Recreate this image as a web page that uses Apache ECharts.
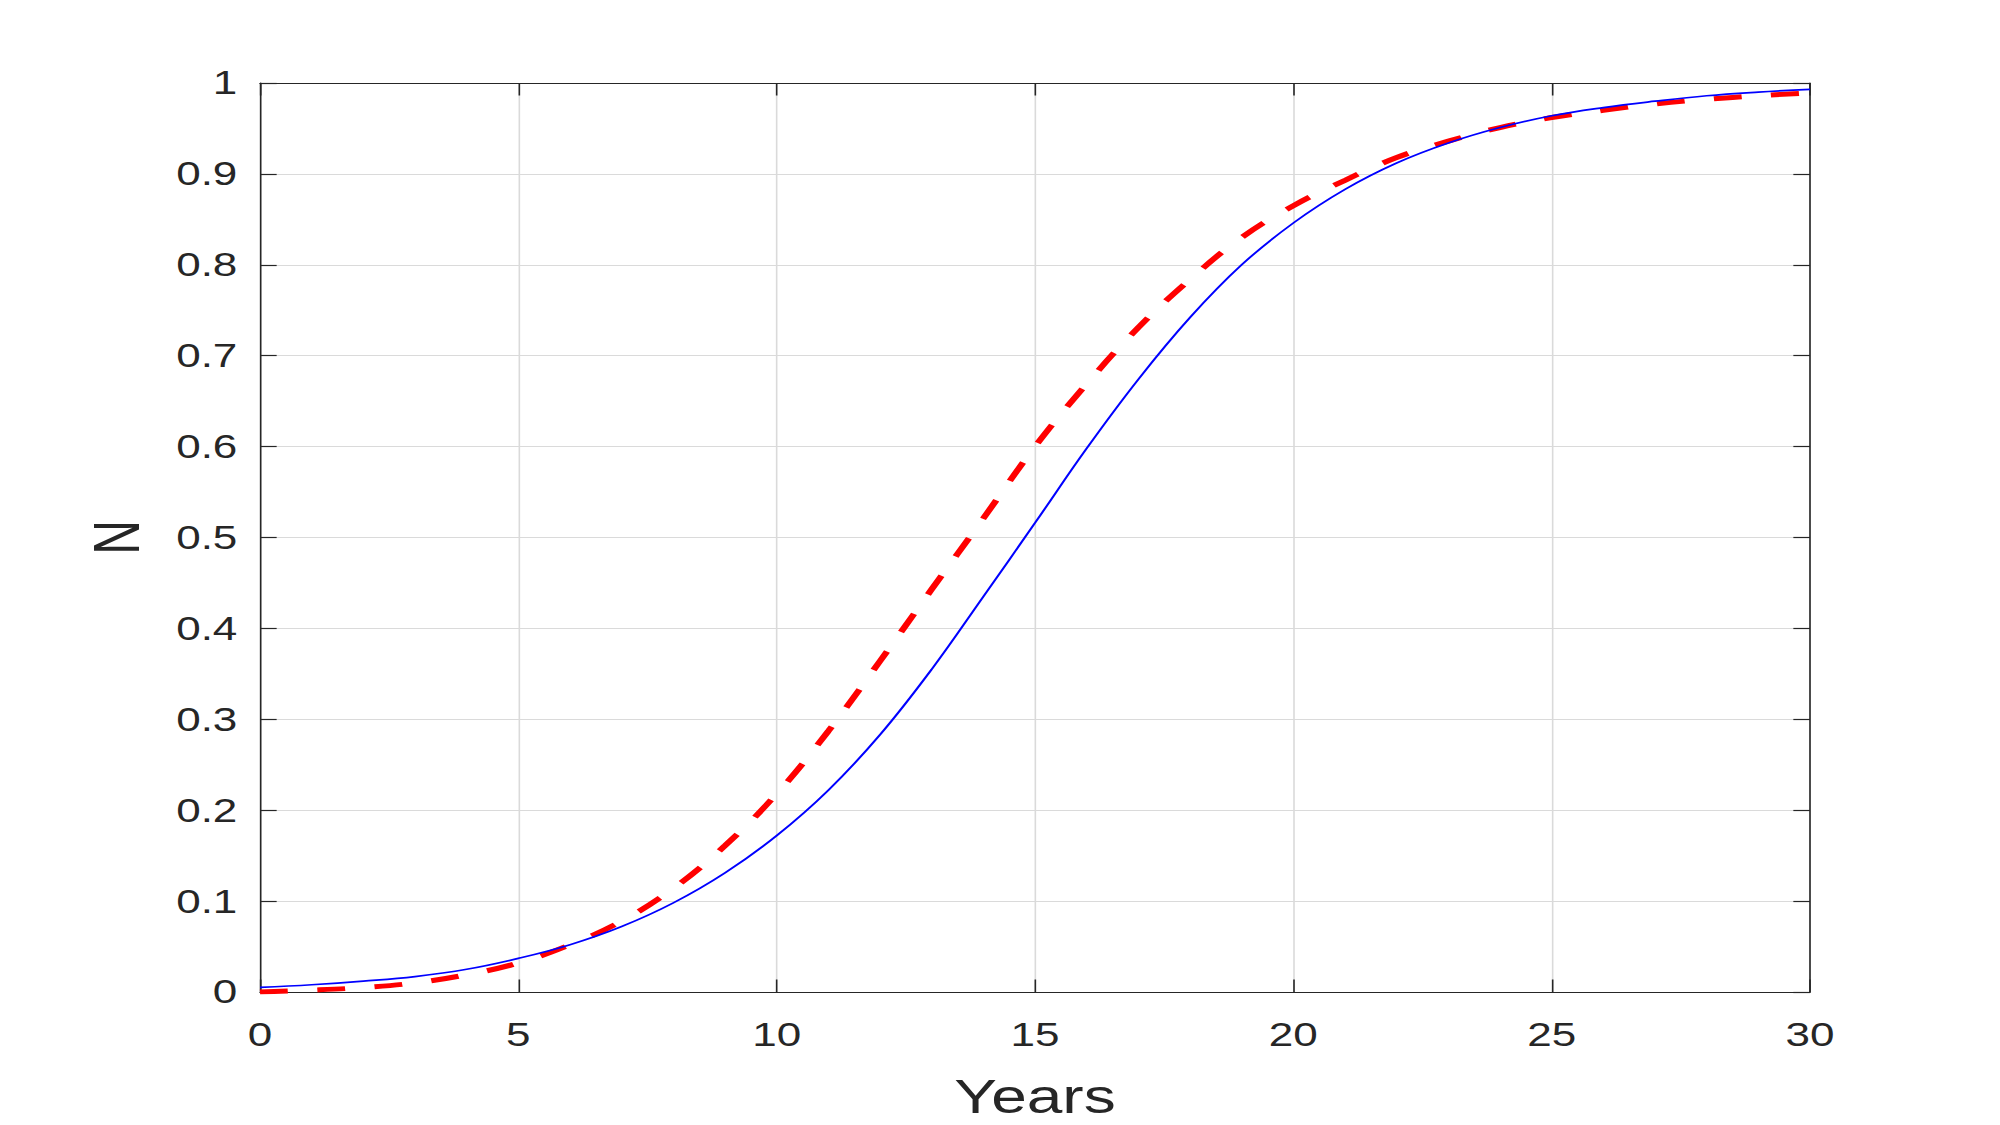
<!DOCTYPE html>
<html>
<head>
<meta charset="utf-8">
<title>N vs Years</title>
<script src="https://cdn.jsdelivr.net/npm/echarts@6/dist/echarts.min.js"></script>
<style>
    html, body { margin: 0; padding: 0; background: #fff; overflow: hidden; }
    /* the figure is a 4:3 plot stretched out to 16:9, so draw it at 1500 wide and stretch */
    #chart { width: 1500px; height: 1125px; transform: scaleX(1.3333333); transform-origin: 0 0; }
</style>
</head>
<body>
<div id="chart"></div>
<script>
var years = [0, 1, 2, 3, 4, 5, 6, 7, 8, 9, 10, 11, 12, 13, 14, 15, 16, 17, 18, 19, 20,
    21, 22, 23, 24, 25, 26, 27, 28, 29, 30]
var blueN = [0.005, 0.008, 0.012, 0.017, 0.025, 0.037, 0.052, 0.072, 0.098, 0.131, 0.172,
    0.222, 0.283, 0.355, 0.435, 0.516, 0.598, 0.674, 0.742, 0.800, 0.846,
    0.883, 0.912, 0.934, 0.951, 0.964, 0.973, 0.980, 0.986, 0.990, 0.993]
var redN = [0.000, 0.002, 0.005, 0.010, 0.019, 0.032, 0.052, 0.078, 0.114, 0.161, 0.218,
    0.287, 0.364, 0.443, 0.521, 0.600, 0.669, 0.731, 0.784, 0.830, 0.865,
    0.893, 0.918, 0.936, 0.951, 0.962, 0.970, 0.977, 0.982, 0.986, 0.989]
var xTickLabels = ['0', '5', '10', '15', '20', '25', '30']
var yTickLabels = ['0', '0.1', '0.2', '0.3', '0.4', '0.5', '0.6', '0.7', '0.8', '0.9', '1']

var textColor = '#262626'
var font = 'Liberation Sans, Arial, Helvetica, sans-serif'

function pairs (ys) {
    return years.map(function (t, i) { return [t, ys[i]] })
}

var frameLine = { show: true, onZero: false, lineStyle: { color: textColor, width: 1.2 } }
var innerTick = { show: true, inside: true, length: 12.5, lineStyle: { color: textColor, width: 1.2 } }
var gridLine = { show: true, lineStyle: { color: '#dadada', width: 1.2 } }

var chart = echarts.init(document.getElementById('chart'), null, { renderer: 'svg' })
chart.setOption({
    backgroundColor: '#fff',
    animation: false,
    grid: { left: 195, top: 83, width: 1162.5, height: 910 },
    xAxis: [
        {
            type: 'value',
            min: 0,
            max: 30,
            interval: 5,
            name: 'Years',
            nameLocation: 'middle',
            nameGap: 80,
            nameTextStyle: { color: textColor, fontSize: 48, fontFamily: font },
            axisLine: frameLine,
            axisTick: innerTick,
            axisLabel: {
                color: textColor,
                fontSize: 33,
                fontFamily: font,
                margin: 26,
                formatter: function (v) { return xTickLabels[Math.round(v / 5)] }
            },
            splitLine: gridLine
        },
        {
            type: 'value',
            position: 'top',
            min: 0,
            max: 30,
            interval: 5,
            axisLine: frameLine,
            axisTick: innerTick,
            axisLabel: { show: false },
            splitLine: { show: false }
        }
    ],
    yAxis: [
        {
            type: 'value',
            min: 0,
            max: 1,
            interval: 0.1,
            name: 'N',
            nameLocation: 'middle',
            nameGap: 83,
            nameTextStyle: { color: textColor, fontSize: 48, fontFamily: font },
            axisLine: frameLine,
            axisTick: innerTick,
            axisLabel: {
                color: textColor,
                fontSize: 33,
                fontFamily: font,
                margin: 17,
                formatter: function (v) { return yTickLabels[Math.round(v * 10)] }
            },
            splitLine: gridLine
        },
        {
            type: 'value',
            position: 'right',
            min: 0,
            max: 1,
            interval: 0.1,
            axisLine: frameLine,
            axisTick: innerTick,
            axisLabel: { show: false },
            splitLine: { show: false }
        }
    ],
    series: [
        {
            name: 'model',
            type: 'line',
            data: pairs(blueN),
            smooth: 0.4,
            showSymbol: false,
            lineStyle: { color: '#0000ff', width: 1.7 },
            z: 3
        },
        {
            name: 'data',
            type: 'line',
            data: pairs(redN),
            smooth: 0.4,
            showSymbol: false,
            lineStyle: { color: '#ff0000', width: 5, type: [21, 22] },
            z: 2
        }
    ]
})
</script>
</body>
</html>
